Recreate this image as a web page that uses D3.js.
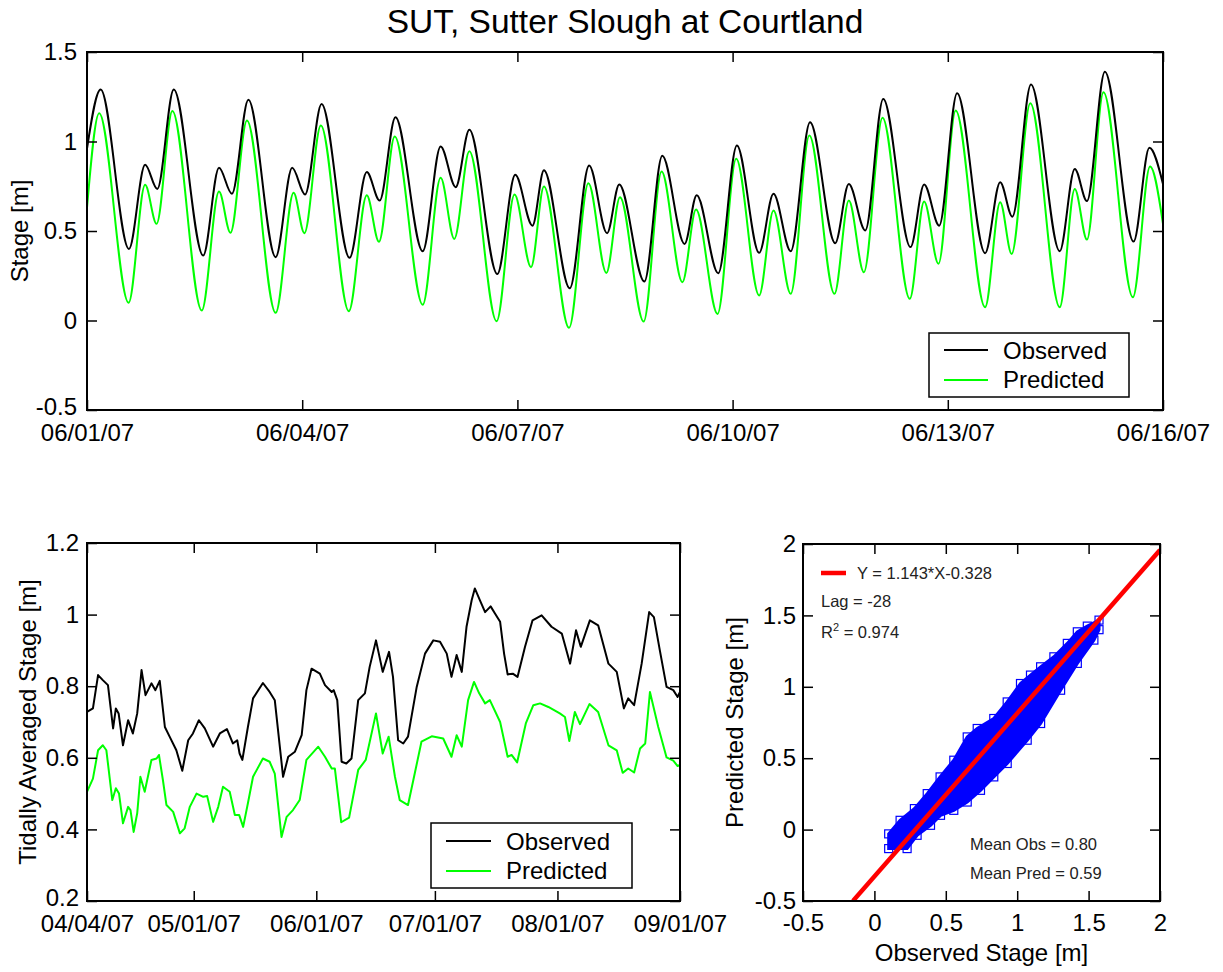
<!DOCTYPE html>
<html><head><meta charset="utf-8">
<script src="https://cdn.jsdelivr.net/npm/d3@7"></script>
<style>body{margin:0;background:#fff}</style>
</head><body>
<svg id="chart" width="1223" height="972"></svg>
<script>
// ---------------- DATA ----------------
const titleText = "SUT, Sutter Slough at Courtland";
const seriesNames = ["Observed", "Predicted"];

// Top panel: tidal stage (day offsets from 06/01/07, value in m) – read extrema
const topTickLabels = ["06/01/07","06/04/07","06/07/07","06/10/07","06/13/07","06/16/07"];
const topYTicks = [-0.5, 0, 0.5, 1, 1.5];
const obsTideDay = [0,0.19,0.585,0.81,0.98,1.21,1.62,1.84,2.02,2.25,2.63,2.86,3.04,3.27,3.66,3.90,4.08,4.30,4.68,4.93,5.14,5.33,5.72,5.97,6.21,6.37,6.73,7.0,7.25,7.42,7.77,8.02,8.33,8.50,8.80,9.06,9.37,9.57,9.81,10.08,10.43,10.62,10.85,11.10,11.48,11.67,11.88,12.13,12.52,12.73,12.90,13.16,13.56,13.77,13.94,14.19,14.59,14.81,15.0];
const obsTideVal = [0.96,1.29,0.40,0.87,0.735,1.29,0.363,0.853,0.708,1.233,0.354,0.853,0.704,1.21,0.35,0.83,0.67,1.136,0.387,0.972,0.745,1.065,0.26,0.814,0.53,0.84,0.18,0.866,0.488,0.76,0.218,0.92,0.428,0.70,0.264,0.978,0.378,0.708,0.387,1.108,0.432,0.763,0.503,1.238,0.41,0.76,0.53,1.27,0.376,0.773,0.58,1.318,0.387,0.847,0.667,1.39,0.441,0.965,0.763];
const predTideDay = [0,0.17,0.58,0.81,0.97,1.19,1.60,1.84,2.0,2.23,2.63,2.88,3.03,3.26,3.65,3.90,4.07,4.29,4.68,4.93,5.12,5.33,5.71,5.96,6.19,6.37,6.72,6.99,7.24,7.43,7.76,8.01,8.30,8.49,8.79,9.05,9.37,9.57,9.81,10.07,10.42,10.62,10.83,11.09,11.47,11.67,11.87,12.11,12.52,12.73,12.89,13.15,13.56,13.77,13.94,14.17,14.58,14.82,15.0];
const predTideVal = [0.63,1.158,0.099,0.758,0.54,1.17,0.056,0.72,0.49,1.117,0.043,0.713,0.488,1.09,0.052,0.70,0.44,1.028,0.088,0.797,0.456,0.946,-0.004,0.704,0.298,0.749,-0.041,0.767,0.266,0.689,-0.006,0.832,0.214,0.62,0.037,0.903,0.14,0.615,0.149,1.034,0.149,0.67,0.27,1.132,0.121,0.665,0.317,1.173,0.074,0.661,0.372,1.214,0.074,0.735,0.452,1.275,0.13,0.86,0.54];

// Bottom-left panel: tidally averaged stage (day offsets from 04/04/07)
const avgTickLabels = ["04/04/07","05/01/07","06/01/07","07/01/07","08/01/07","09/01/07"];
const avgYTicks = [0.2, 0.4, 0.6, 0.8, 1, 1.2];
const obsAvgDay = [0,1.5,2.8,4.0,5.3,6.6,7.3,8.0,9.1,10.4,11.6,12.7,13.8,14.8,16.3,17.3,18.4,19.7,20.9,22.6,24.1,25.6,26.8,28.3,29.8,31.9,33.6,35.4,36.9,38.0,38.6,39.3,40.7,42.0,44.5,46.2,47.5,49.6,50.9,52.6,54.3,55.5,56.8,58.9,60.2,61.9,62.4,63.3,64.4,65.6,66.9,68.6,70.3,71.5,73.1,74.8,76.4,77.4,78.7,80.0,81.2,83.4,85.5,87.6,89.3,91.0,92.2,93.5,94.8,96.0,97.3,98.1,99.4,100.7,102.1,103.2,104.5,105.5,106.4,107.7,108.9,110.8,112.7,115.0,117.5,120.1,122.2,123.7,124.9,127.2,129.3,131.9,134.0,135.8,136.9,138.4,140.3,142.2,143.4,144.9,146.6,148.3,149.4,150];
const obsAvgVal = [0.728,0.738,0.831,0.817,0.803,0.682,0.738,0.724,0.635,0.705,0.668,0.724,0.845,0.775,0.808,0.789,0.815,0.686,0.659,0.621,0.564,0.649,0.668,0.705,0.682,0.631,0.668,0.68,0.64,0.649,0.612,0.594,0.686,0.766,0.809,0.784,0.761,0.547,0.603,0.617,0.663,0.789,0.849,0.835,0.803,0.784,0.789,0.761,0.589,0.584,0.598,0.761,0.780,0.854,0.928,0.84,0.896,0.826,0.649,0.64,0.659,0.798,0.891,0.928,0.924,0.891,0.826,0.887,0.84,0.966,1.04,1.073,1.04,1.007,1.023,1.003,0.98,0.891,0.833,0.835,0.826,0.91,0.984,0.998,0.966,0.947,0.863,0.956,0.91,0.984,0.970,0.863,0.84,0.738,0.766,0.747,0.863,1.007,0.993,0.9,0.798,0.789,0.77,0.784];
const predAvgDay = [0,1.5,2.8,4.0,4.9,6.4,7.3,8.1,9.1,10.4,11.0,11.8,12.7,13.5,14.6,16.3,17.6,18.2,19.2,20.1,21.8,23.5,24.7,26.0,27.7,29.4,30.4,31.9,33.2,34.4,36.1,37.4,38.5,39.5,40.7,42.0,44.5,46.2,47.5,49.2,50.5,52.1,53.8,55.5,58.5,60.2,61.9,62.7,64.3,66.3,68.6,70.5,73.1,74.8,76.3,77.9,79.1,81.2,82.9,84.6,87.2,90.1,92.2,93.5,94.8,96.4,97.9,99.2,100.7,101.9,104.5,106.4,107.4,108.8,111.0,112.9,114.6,116.7,119.6,120.9,122.0,123.4,124.7,127.1,129.3,131.9,134.0,135.5,136.9,138.4,139.9,141.2,142.4,144.5,146.6,148.3,149.4,150];
const predAvgVal = [0.505,0.542,0.621,0.635,0.621,0.482,0.515,0.5,0.417,0.463,0.454,0.393,0.445,0.547,0.505,0.594,0.598,0.608,0.538,0.468,0.449,0.389,0.403,0.463,0.5,0.491,0.493,0.421,0.463,0.519,0.505,0.44,0.44,0.407,0.473,0.547,0.598,0.589,0.556,0.379,0.435,0.454,0.482,0.594,0.631,0.603,0.570,0.57,0.42,0.433,0.566,0.594,0.724,0.612,0.659,0.547,0.482,0.468,0.556,0.645,0.66,0.654,0.603,0.663,0.631,0.761,0.812,0.780,0.752,0.761,0.70,0.603,0.608,0.587,0.696,0.747,0.752,0.742,0.724,0.714,0.647,0.728,0.694,0.75,0.728,0.635,0.621,0.558,0.57,0.559,0.626,0.64,0.784,0.686,0.601,0.592,0.577,0.58];

// Bottom-right panel: observed vs predicted scatter – outline of the dense point cloud
const scatterTicks = [-0.5, 0, 0.5, 1, 1.5, 2];
const cloudObs  = [0.10,0.18,0.28,0.37,0.46,0.556,0.65,0.72,0.836,0.93,1.023,1.093,1.164,1.257,1.351,1.421,1.491,1.573,1.573,1.537,1.421,1.304,1.164,1.07,0.93,0.836,0.743,0.65,0.556,0.463,0.393,0.299,0.229,0.10];
const cloudPred = [-0.03,0.065,0.147,0.252,0.369,0.486,0.649,0.708,0.778,0.894,1.023,1.082,1.14,1.21,1.304,1.385,1.425,1.467,1.40,1.327,1.164,0.976,0.743,0.626,0.463,0.369,0.275,0.193,0.135,0.10,0.03,-0.04,-0.133,-0.133];
const fitSlope = 1.143, fitIntercept = -0.328;
const fitXRange = [-0.15, 2];
const fitLabel = "Y = 1.143*X-0.328";
const lagLabel = "Lag = -28";
const r2Value = "0.974";
const meanObsLabel = "Mean Obs = 0.80";
const meanPredLabel = "Mean Pred = 0.59";

// ---------------- DRAW ----------------
const FONT = "'Liberation Sans', Arial, Helvetica, sans-serif";
const GREEN = "#00ff00";
const svg = d3.select("#chart");
svg.append("rect").attr("width",1223).attr("height",972).attr("fill","#fff");

const utc = (y,m,d) => new Date(Date.UTC(y,m-1,d));
const offset = (base, d) => new Date(base.getTime() + d*864e5);
const fmtDate = d3.utcFormat("%m/%d/%y");
const numFmt = d => String(d);

function axes(box, x, y, xTicks, xFmt, yTicks, yFmt, padX, padY, liftLowest) {
  const g = svg.append("g");
  const style = sel => {
    sel.select(".domain").remove();
    sel.attr("font-family", FONT).attr("font-size", 24);
    sel.selectAll("line").attr("stroke","#000").attr("stroke-width",1.5);
    sel.selectAll("text").attr("fill","#000");
  };
  g.append("g").attr("transform",`translate(0,${box.bottom})`)
    .call(d3.axisBottom(x).tickValues(xTicks).tickFormat(xFmt).tickSizeInner(-10).tickSizeOuter(0).tickPadding(padX)).call(style);
  g.append("g").attr("transform",`translate(0,${box.top})`)
    .call(d3.axisTop(x).tickValues(xTicks).tickFormat("").tickSizeInner(-10).tickSizeOuter(0)).call(style);
  const left = g.append("g").attr("transform",`translate(${box.left},0)`)
    .call(d3.axisLeft(y).tickValues(yTicks).tickFormat(yFmt).tickSizeInner(-10).tickSizeOuter(0).tickPadding(padY)).call(style);
  if (liftLowest) left.selectAll("text").filter(d => d === yTicks[0]).attr("y", -liftLowest);
  g.append("g").attr("transform",`translate(${box.right},0)`)
    .call(d3.axisRight(y).tickValues(yTicks).tickFormat("").tickSizeInner(-10).tickSizeOuter(0)).call(style);
  g.append("rect").attr("x",box.left).attr("y",box.top)
    .attr("width",box.right-box.left).attr("height",box.bottom-box.top)
    .attr("fill","none").attr("stroke","#000").attr("stroke-width",2);
}

function legend(x0, y0, w, h, lineX1, lineX2, textX, rows) {
  const g = svg.append("g");
  g.append("rect").attr("x",x0).attr("y",y0).attr("width",w).attr("height",h)
    .attr("fill","#fff").attr("stroke","#000").attr("stroke-width",1.5);
  rows.forEach(r => {
    g.append("line").attr("x1",lineX1).attr("x2",lineX2).attr("y1",r.ly).attr("y2",r.ly)
      .attr("stroke",r.color).attr("stroke-width",2);
    g.append("text").attr("x",textX).attr("y",r.ty).text(r.name)
      .attr("font-family",FONT).attr("font-size",24).attr("fill","#000");
  });
}

function ylabel(x, y, txt) {
  svg.append("text").attr("transform",`translate(${x},${y}) rotate(-90)`)
    .attr("text-anchor","middle").attr("font-family",FONT).attr("font-size",24).text(txt);
}

// Title
svg.append("text").attr("x",625).attr("y",33).attr("text-anchor","middle")
  .attr("font-family",FONT).attr("font-size",33.5).text(titleText);

// ---- Top panel ----
const TB = {left:87, right:1163, top:52, bottom:410};
const topStart = utc(2007,6,1);
const xTop = d3.scaleUtc().domain([topStart, utc(2007,6,16)]).range([TB.left, TB.right]);
const yTop = d3.scaleLinear().domain([-0.5,1.5]).range([TB.bottom, TB.top]);
const topTickDates = topTickLabels.map(s => { const p = s.split("/"); return utc(2000+ +p[2], +p[0], +p[1]); });
const tideLine = d3.line().x(d => xTop(d[0])).y(d => yTop(d[1])).curve(d3.curveMonotoneX);
const obsTide = obsTideDay.map((d,i) => [offset(topStart,d), obsTideVal[i]]);
const predTide = predTideDay.map((d,i) => [offset(topStart,d), predTideVal[i]]);
svg.append("path").attr("d", tideLine(predTide)).attr("fill","none").attr("stroke",GREEN).attr("stroke-width",2);
svg.append("path").attr("d", tideLine(obsTide)).attr("fill","none").attr("stroke","#000").attr("stroke-width",2);
axes(TB, xTop, yTop, topTickDates, fmtDate, topYTicks, numFmt, 14, 10, 3);
ylabel(28, (TB.top+TB.bottom)/2, "Stage [m]");
legend(929, 333, 200, 64, 944, 988, 1003, [
  {name:seriesNames[0], color:"#000", ly:350, ty:359},
  {name:seriesNames[1], color:GREEN, ly:380, ty:388}
]);

// ---- Bottom-left panel ----
const LB = {left:87, right:680, top:543, bottom:901};
const avgStart = utc(2007,4,4);
const xAvg = d3.scaleUtc().domain([avgStart, utc(2007,9,1)]).range([LB.left, LB.right]);
const yAvg = d3.scaleLinear().domain([0.2,1.2]).range([LB.bottom, LB.top]);
const avgTickDates = avgTickLabels.map(s => { const p = s.split("/"); return utc(2000+ +p[2], +p[0], +p[1]); });
const avgLine = d3.line().x(d => xAvg(d[0])).y(d => yAvg(d[1]));
const obsAvg = obsAvgDay.map((d,i) => [offset(avgStart,d), obsAvgVal[i]]);
const predAvg = predAvgDay.map((d,i) => [offset(avgStart,d), predAvgVal[i]]);
svg.append("path").attr("d", avgLine(obsAvg)).attr("fill","none").attr("stroke","#000").attr("stroke-width",2).attr("stroke-linejoin","round");
svg.append("path").attr("d", avgLine(predAvg)).attr("fill","none").attr("stroke",GREEN).attr("stroke-width",2).attr("stroke-linejoin","round");
axes(LB, xAvg, yAvg, avgTickDates, fmtDate, avgYTicks, numFmt, 14, 8, 3);
ylabel(36, (LB.top+LB.bottom)/2, "Tidally Averaged Stage [m]");
legend(431, 823, 201, 65, 446, 491, 506, [
  {name:seriesNames[0], color:"#000", ly:841, ty:850},
  {name:seriesNames[1], color:GREEN, ly:871, ty:879}
]);

// ---- Bottom-right scatter ----
const SB = {left:803, right:1160, top:544, bottom:901};
const xS = d3.scaleLinear().domain([-0.5,2]).range([SB.left, SB.right]);
const yS = d3.scaleLinear().domain([-0.5,2]).range([SB.bottom, SB.top]);
svg.append("clipPath").attr("id","clipS").append("rect")
  .attr("x",SB.left).attr("y",SB.top).attr("width",SB.right-SB.left).attr("height",SB.bottom-SB.top);
const cloud = cloudObs.map((o,i) => [o, cloudPred[i]]);
const gS = svg.append("g").attr("clip-path","url(#clipS)");
gS.append("path").attr("d", d3.line().x(d=>xS(d[0])).y(d=>yS(d[1])).curve(d3.curveLinearClosed)(cloud))
  .attr("fill","#0000ff").attr("stroke","#0000ff").attr("stroke-width",3).attr("stroke-linejoin","miter");
gS.selectAll("rect.mk").data(cloud).join("rect").attr("class","mk")
  .attr("x", d => xS(d[0]) - 4).attr("y", d => yS(d[1]) - 4).attr("width",8).attr("height",8)
  .attr("fill","none").attr("stroke","#0000ff").attr("stroke-width",1.2);
const fit = fitXRange.map(x => [x, fitSlope*x + fitIntercept]);
gS.append("line").attr("x1",xS(fit[0][0])).attr("y1",yS(fit[0][1])).attr("x2",xS(fit[1][0])).attr("y2",yS(fit[1][1]))
  .attr("stroke","#ff0000").attr("stroke-width",4.5);
axes(SB, xS, yS, scatterTicks, numFmt, scatterTicks, numFmt, 13, 7, 0);
ylabel(743, (SB.top+SB.bottom)/2, "Predicted Stage [m]");
svg.append("text").attr("x",(SB.left+SB.right)/2).attr("y",961).attr("text-anchor","middle")
  .attr("font-family",FONT).attr("font-size",24).text("Observed Stage [m]");
// annotations
svg.append("line").attr("x1",821).attr("x2",846).attr("y1",573).attr("y2",573).attr("stroke","#ff0000").attr("stroke-width",4.5);
const ann = (x,y,t) => svg.append("text").attr("x",x).attr("y",y).attr("font-family",FONT).attr("font-size",16.5).attr("fill","#222").text(t);
ann(857, 579, fitLabel);
ann(821, 607, lagLabel);
const r2 = ann(821, 638, "R");
r2.append("tspan").attr("font-size",11).attr("dy",-7).text("2");
r2.append("tspan").attr("dy",7).text(" = " + r2Value);
ann(970, 850, meanObsLabel);
ann(970, 879, meanPredLabel);
</script>
</body></html>
